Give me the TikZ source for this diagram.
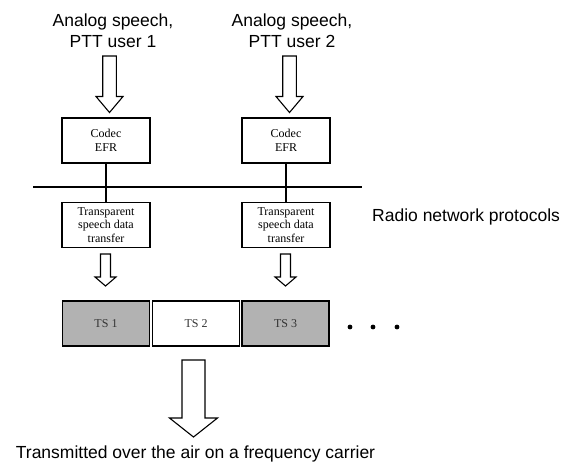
\documentclass[tikz,border=0pt]{standalone}
\usepackage{fontspec}
\setmainfont{Liberation Serif}
\newfontfamily\arialfont{Liberation Sans}
\begin{document}
\begin{tikzpicture}[x=1pt,y=-1pt,
  bigtext/.style={font=\arialfont\fontsize{17.5}{21}\selectfont, inner sep=0pt, align=center},
  smallbox/.style={draw, line width=1.6pt, minimum width=88pt, minimum height=45pt, inner sep=0pt, align=center,
                   font=\fontsize{12}{13.5}\selectfont},
  slotbox/.style={draw, line width=1.8pt, minimum width=87pt, minimum height=45pt, inner sep=0pt,
                  font=\fontsize{12}{13}\selectfont, text=black!80},
  slotgray/.style={slotbox, fill=black!30},
  blockarrow/.style={draw, line width=1.1pt, fill=white, line join=miter},
  bus/.style={line width=1.6pt}
]
\useasboundingbox (0,0) rectangle (561,464);

\newcommand\myblkarrow[6]{% cx, top, headstart, tip, shafthalf, headhalf
  \draw[blockarrow] (#1-#5,#2) -- (#1+#5,#2) -- (#1+#5,#3) -- (#1+#6,#3) -- (#1,#4)
     -- (#1-#6,#3) -- (#1-#5,#3) -- cycle;}

% titles
\node[bigtext] (t1) at (113,30.5) {Analog speech,\\PTT user 1};
\node[bigtext] (t2) at (292,30.5) {Analog speech,\\PTT user 2};

% top arrows
\myblkarrow{109.5}{56}{96.5}{112.5}{6.8}{13.5}
\myblkarrow{289.5}{56}{96.5}{112.5}{6.8}{13.5}

% codec boxes
\node[smallbox] (c1) at (106,140.5) {Codec\\EFR};
\node[smallbox] (c2) at (286,140.5) {Codec\\EFR};

% transparent boxes
\node[smallbox] (p1) at (106,225) {Transparent\\speech data\\transfer};
\node[smallbox] (p2) at (286,225) {Transparent\\speech data\\transfer};

% bus line
\coordinate (busL) at (33,187);
\coordinate (busR) at (362,187);
\draw[bus] (busL) -- (busR);
\draw[bus] (c1.south) -- (p1.north);
\draw[bus] (c2.south) -- (p2.north);

\node[bigtext, anchor=west] (rnp) at (372,217) {Radio network protocols};

% small arrows
\myblkarrow{105.5}{254}{277}{286}{5}{10.5}
\myblkarrow{285.5}{254}{277}{286}{5}{10.5}

% time slots
\node[slotgray] (ts1) at (106,323.5) {TS 1};
\node[slotbox]  (ts2) at (196,323.5) {TS 2};
\node[slotgray] (ts3) at (285.5,323.5) {TS 3};

% dots
\fill (350,327) circle (2.4);
\fill (373,327) circle (2.4);
\fill (397,327) circle (2.4);

% big arrow
\myblkarrow{193.5}{360}{418}{437}{11.5}{24}

\node[bigtext, anchor=base] (tx) at (195.5,458) {Transmitted over the air on a frequency carrier};
\end{tikzpicture}
\end{document}
